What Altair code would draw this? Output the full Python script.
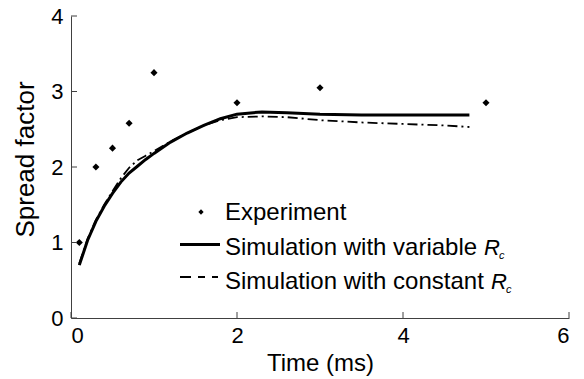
import altair as alt
import pandas as pd

# ---- data ----
exp_time = [0.1, 0.3, 0.5, 0.7, 1.0, 2.0, 3.0, 5.0]
exp_spread = [1.0, 2.0, 2.25, 2.58, 3.25, 2.85, 3.05, 2.85]

var_time = [0.1, 0.2, 0.3, 0.4, 0.5, 0.6, 0.7, 0.8, 0.9, 1.0, 1.2, 1.4, 1.6, 1.8,
            2.0, 2.3, 2.6, 3.0, 3.5, 4.0, 4.8]
var_spread = [0.70, 1.03, 1.28, 1.48, 1.65, 1.80, 1.92, 2.01, 2.10, 2.18, 2.33, 2.45,
              2.55, 2.64, 2.70, 2.73, 2.72, 2.70, 2.69, 2.69, 2.69]

const_time = [0.1, 0.2, 0.3, 0.4, 0.5, 0.6, 0.7, 0.8, 0.9, 1.0, 1.2, 1.4, 1.6, 1.8,
              2.0, 2.3, 2.6, 3.0, 3.5, 4.0, 4.5, 4.8]
const_spread = [0.72, 1.05, 1.30, 1.50, 1.68, 1.85, 1.99, 2.09, 2.15, 2.21, 2.34, 2.45,
                2.55, 2.62, 2.66, 2.67, 2.66, 2.62, 2.59, 2.57, 2.55, 2.53]

x_ticks = [0, 2, 4, 6]
y_ticks = [0, 1, 2, 3, 4]

legend_labels = ["Experiment", "Simulation with variable ", "Simulation with constant "]
x_title = "Time (ms)"
y_title = "Spread factor"

# ---- layout / style ----
FONT = "Liberation Sans"
W, H = 498, 302
AXC = "#404040"

exp_df = pd.DataFrame({"x": exp_time, "y": exp_spread})
var_df = pd.DataFrame({"x": var_time, "y": var_spread})
const_df = pd.DataFrame({"x": const_time, "y": const_spread})
xt_df = pd.DataFrame({"x": x_ticks})
yt_df = pd.DataFrame({"y": y_ticks})

xscale = alt.Scale(domain=[0, 6], nice=False, zero=False)
yscale = alt.Scale(domain=[0, 4], nice=False, zero=False)

xaxis = alt.Axis(values=x_ticks, ticks=False, grid=False, labelPadding=7,
                 titleX=249, titleY=52, titleAlign="center",
                 titleBaseline="alphabetic", titleFontSize=24)
yaxis = alt.Axis(values=y_ticks, ticks=False, grid=False, labelPadding=8,
                 titleX=-38, titleY=143, titleAngle=270, titleAlign="center",
                 titleBaseline="alphabetic", titleFontSize=26)

X = alt.X("x:Q", scale=xscale, axis=xaxis, title=x_title)
Y = alt.Y("y:Q", scale=yscale, axis=yaxis, title=y_title)

var_line = alt.Chart(var_df).mark_line(color="black", strokeWidth=3).encode(x=X, y=Y)
const_line = alt.Chart(const_df).mark_line(
    color="black", strokeWidth=1.8, strokeDash=[10, 4, 2, 4]).encode(x=X, y=Y)
points = alt.Chart(exp_df).mark_point(
    shape="diamond", filled=True, size=50, color="black", opacity=1).encode(x=X, y=Y)

xticks = alt.Chart(xt_df).mark_rule(color=AXC, strokeWidth=1).encode(
    x=X, y=alt.value(H), y2=alt.value(H - 6))
yticks = alt.Chart(yt_df).mark_rule(color=AXC, strokeWidth=1).encode(
    y=Y, x=alt.value(0), x2=alt.value(6))

# ---- manual legend (inside plot) ----
one = pd.DataFrame({"k": [0]})
leg = []
leg.append(alt.Chart(one).mark_point(shape="diamond", filled=True, size=28,
                                     color="black", opacity=1).encode(
    x=alt.value(130), y=alt.value(196)))
leg.append(alt.Chart(one).mark_rule(color="black", strokeWidth=3).encode(
    x=alt.value(109), x2=alt.value(149), y=alt.value(228.5)))
leg.append(alt.Chart(one).mark_rule(color="black", strokeWidth=1.8,
                                    strokeDash=[11, 7, 7, 7]).encode(
    x=alt.value(109), x2=alt.value(147), y=alt.value(261)))
for lab, by in zip(legend_labels, [204, 239, 273]):
    leg.append(alt.Chart(one).mark_text(
        align="left", baseline="alphabetic", font=FONT, fontSize=24,
        color="black", text=lab).encode(x=alt.value(154), y=alt.value(by)))
for rx, by in [(413, 239), (420, 273)]:
    leg.append(alt.Chart(one).mark_text(
        align="left", baseline="alphabetic", font=FONT, fontSize=22,
        fontStyle="italic", color="black", text="R").encode(
        x=alt.value(rx), y=alt.value(by)))
    leg.append(alt.Chart(one).mark_text(
        align="left", baseline="alphabetic", font=FONT, fontSize=11,
        fontStyle="italic", color="black", text="c").encode(
        x=alt.value(rx + 15), y=alt.value(by + 4)))

chart = alt.layer(var_line, const_line, points, xticks, yticks, *leg).properties(
    width=W, height=H,
    padding={"left": 71, "top": 16, "right": 15, "bottom": 61},
    autosize="none",
).configure_view(stroke=None).configure_axis(
    domainColor=AXC, domainWidth=1,
    labelFont=FONT, titleFont=FONT, labelFontSize=22,
    labelColor="black", titleColor="black", titleFontWeight="normal",
)

chart.save("out.html", embed_options={"renderer": "svg", "actions": False})
